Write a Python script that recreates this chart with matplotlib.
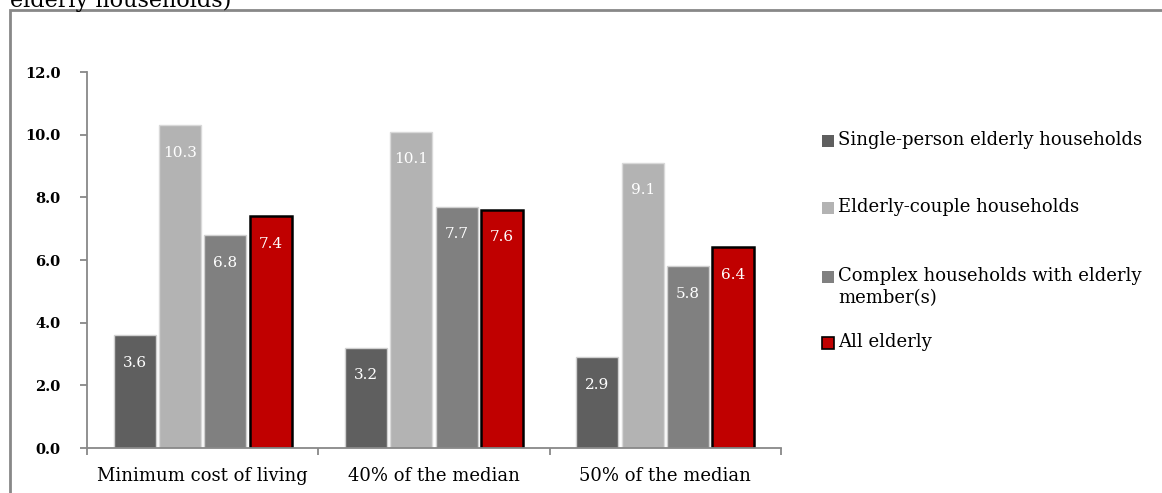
import matplotlib
matplotlib.use("Agg")
import matplotlib.pyplot as plt
from matplotlib.patches import Rectangle
import numpy as np

plt.rcParams['font.family'] = ['DejaVu Serif']

# poverty rates of elderly households by poverty line (%)
categories = ["Minimum cost of living", "40% of the median", "50% of the median"]
series = ["Single-person elderly households",
          "Elderly-couple households",
          "Complex households with elderly\nmember(s)",
          "All elderly"]
single = [3.6, 3.2, 2.9]
couple = [10.3, 10.1, 9.1]
complex_hh = [6.8, 7.7, 5.8]
all_elderly = [7.4, 7.6, 6.4]
values = [single, couple, complex_hh, all_elderly]

colors = ["#5f5f5f", "#b3b3b3", "#808080", "#c00000"]
edges = ["#d0d0d0", "#d9d9d9", "#d0d0d0", "black"]
edge_w = [1.0, 1.0, 1.0, 1.8]

fig = plt.figure(figsize=(11.62, 4.93), dpi=100)

# outer frame of the chart area
fig.patches.append(Rectangle((10 / 1162, -0.1), 1.2, 1 - 10 / 493 + 0.1,
                             transform=fig.transFigure, fill=False,
                             edgecolor="#888888", linewidth=2))
fig.text(10 / 1162, 1 - 7 / 493, "elderly households)", fontsize=16,
         ha="left", va="baseline", color="black")

ax = fig.add_axes([87 / 1162, 1 - 448 / 493, (781 - 87) / 1162, (448 - 72) / 493])

x = np.arange(len(categories))
step = 0.196
width = 0.182
offsets = (np.arange(4) - 1.5) * step

for k in range(4):
    ax.bar(x + offsets[k], values[k], width, color=colors[k],
           edgecolor=edges[k], linewidth=edge_w[k], zorder=2)
    for i, v in enumerate(values[k]):
        ax.text(x[i] + offsets[k], v - 0.88, f"{v:.1f}", ha="center",
                va="center", color="white", fontsize=11, zorder=3)

ax.set_xlim(-0.5, len(categories) - 0.5)
ax.set_ylim(0, 12)
ax.set_yticks(np.arange(0, 12.1, 2))
ax.set_yticklabels([f"{t:.1f}" for t in np.arange(0, 12.1, 2)],
                   fontsize=10.5, fontweight="bold")
ax.set_xticks(x)
ax.set_xticklabels(categories, fontsize=13)
ax.set_xticks(np.arange(-0.5, len(categories)), minor=True)
ax.tick_params(axis="x", which="major", length=0, pad=14)
ax.tick_params(axis="x", which="minor", length=5, direction="out",
               color="#888888", width=1.3)
ax.tick_params(axis="y", length=5, direction="out", color="#888888",
               width=1.3, pad=14)

for s in ["top", "right"]:
    ax.spines[s].set_visible(False)
for s in ["left", "bottom"]:
    ax.spines[s].set_color("#888888")
    ax.spines[s].set_linewidth(1.3)

# legend drawn at the right of the plot
leg_y = [141, 208, 277, 343]
for k in range(4):
    yc = 1 - leg_y[k] / 493
    fig.patches.append(Rectangle((822 / 1162, yc - 6 / 493), 12 / 1162, 12 / 493,
                                 transform=fig.transFigure, facecolor=colors[k],
                                 edgecolor="black" if k == 3 else colors[k],
                                 linewidth=1.2 if k == 3 else 0))
    fig.text(838 / 1162, yc + 10 / 493, series[k], fontsize=13, ha="left",
             va="top", linespacing=1.3)

fig.savefig("out.png", dpi=100)
